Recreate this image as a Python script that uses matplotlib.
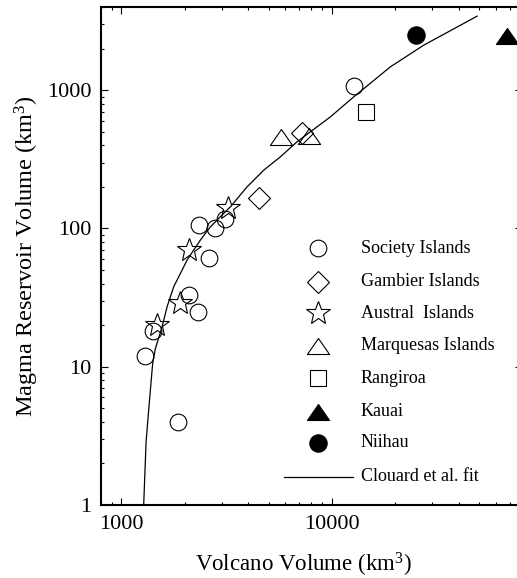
import numpy as np
import matplotlib
matplotlib.use('Agg')
import matplotlib.pyplot as plt
from matplotlib.path import Path

plt.rcParams['font.family'] = ['Liberation Serif', 'DejaVu Serif']
plt.rcParams['mathtext.fontset'] = 'custom'
plt.rcParams['mathtext.rm'] = 'Liberation Serif'
plt.rcParams['mathtext.it'] = 'Liberation Serif:italic'

# volcano volume (km3), magma reservoir volume (km3)
society_x = [12700, 2330, 2770, 3100, 2600, 2100, 2300, 1420, 1290, 1860]
society_y = [1080, 106, 100, 118, 61, 33, 25, 18, 12, 4]
gambier_x = [7200, 4500]
gambier_y = [490, 165]
austral_x = [3200, 2100, 1900, 1470]
austral_y = [140, 70, 29, 20]
marquesas_x = [5700, 7800]
marquesas_y = [460, 470]
rangiroa_x = [14600]
rangiroa_y = [700]
kauai_x = [68000]
kauai_y = [2450]
niihau_x = [25000]
niihau_y = [2500]

# Clouard et al. fit
fit_x = [1276, 1310, 1348, 1373, 1408, 1450, 1561, 1649, 1772, 1907,
         2052, 2205, 2373, 2648, 2953, 3296, 3953, 4742, 5692, 6834,
         9840, 12700, 18970, 27300, 48980]
fit_y = [1.0, 2.87, 4.86, 6.78, 10.6, 13.5, 19.5, 27.2, 37.9, 47.3,
         59.1, 69.8, 82.5, 102.8, 121.6, 143.6, 200, 264, 330, 424,
         642, 896, 1477, 2118, 3435]

tri = Path([(0, 0.72), (-1, -0.72), (1, -0.72), (0, 0.72)],
           [Path.MOVETO, Path.LINETO, Path.LINETO, Path.CLOSEPOLY])

series = [
    ('Society Islands', society_x, society_y, 'o', 12, 'none'),
    ('Gambier Islands', gambier_x, gambier_y, 'D', 11, 'none'),
    ('Austral  Islands', austral_x, austral_y, '*', 18, 'none'),
    ('Marquesas Islands', marquesas_x, marquesas_y, tri, 16, 'none'),
    ('Rangiroa', rangiroa_x, rangiroa_y, 's', 11, 'none'),
    ('Kauai', kauai_x, kauai_y, tri, 16, 'black'),
    ('Niihau', niihau_x, niihau_y, 'o', 12.5, 'black'),
]

fig = plt.figure(figsize=(5.17, 5.78), dpi=100)
W, H = 517, 578
ax = fig.add_axes([101 / W, 73 / H, 421 / W, 498 / H])

ax.plot(fit_x, fit_y, color='black', lw=0.9, zorder=2)
for name, xs, ys, m, ms, fc in series:
    ax.plot(xs, ys, ls='none', marker=m, ms=ms, mfc=fc, mec='black',
            mew=0.8, zorder=3, clip_on=False)

ax.set_xscale('log')
ax.set_yscale('log')
ax.set_xlim(800, 80000)
ax.set_ylim(1, 4000)
ax.set_xticks([1000, 10000])
ax.set_xticklabels(['1000', '10000'])
ax.set_yticks([1, 10, 100, 1000])
ax.set_yticklabels(['1', '10', '100', '1000'])
ax.tick_params(which='both', direction='in', top=True, right=True,
               labelsize=16)
ax.tick_params(which='major', length=5, width=0.8, pad=7)
ax.tick_params(which='minor', length=2.5, width=0.8)
for s in ax.spines.values():
    s.set_linewidth(1.5)

ax.set_xlabel('Volcano Volume (km$^3$)', fontsize=16.5, labelpad=12)
ax.xaxis.label.set_x(0.48)
ax.set_ylabel('Magma Reservoir Volume (km$^3$)', fontsize=17.5, labelpad=4)

# legend drawn by hand
def to_ax(px, py):
    return (px - 101) / 421, (505 - py) / 498

rows = [248.3, 281.7, 313, 346, 378.3, 411.7, 442.7]
for (name, xs, ys, m, ms, fc), py in zip(series, rows):
    mx, my = to_ax(318, py)
    ax.plot([mx], [my], transform=ax.transAxes, ls='none', marker=m, ms=ms,
            mfc=fc, mec='black', mew=0.8)
    tx, ty = to_ax(361, py)
    ax.text(tx, ty, name, transform=ax.transAxes, fontsize=13, va='center')
lx0, ly = to_ax(284, 476.7)
lx1, _ = to_ax(353, 476.7)
ax.plot([lx0, lx1], [ly, ly], transform=ax.transAxes, color='black', lw=0.9)
tx, ty = to_ax(361, 476.7)
ax.text(tx, ty, 'Clouard et al. fit', transform=ax.transAxes, fontsize=13,
        va='center')

fig.savefig('out.png', dpi=100)
